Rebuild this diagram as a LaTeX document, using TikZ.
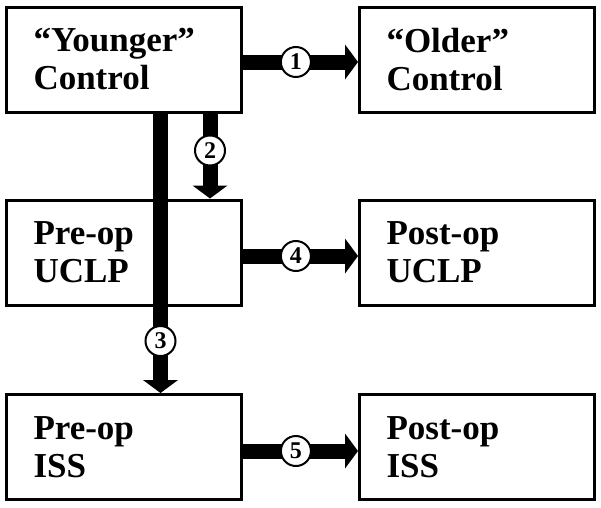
\documentclass[tikz,border=0pt]{standalone}
\usepackage{fontspec}
\setmainfont{Liberation Serif}
\usetikzlibrary{arrows.meta,positioning}
\tikzset{
  box/.style={draw, line width=3pt, minimum width=235pt, minimum height=105pt,
    text width=181pt, inner xsep=27pt, inner ysep=0pt, align=left,
    font=\fontsize{35}{38}\selectfont\bfseries},
  bigarrow/.style={line width=15pt,
    -{Triangle[width=35pt,length=13pt,line width=0pt]}},
  num/.style={circle, draw, line width=2pt, fill=white, minimum size=30pt,
    inner sep=0pt, font=\fontsize{24}{24}\selectfont\bfseries}
}
\begin{document}
\begin{tikzpicture}[x=1pt,y=-1pt]
\useasboundingbox (0,0) rectangle (601,507);
\node[box] (yc) at (124,59.5) {“Younger”\\Control};
\node[box] (oc) at (477,59.5) {“Older”\\Control};
\node[box] (pu) at (124,252.5) {Pre-op\\UCLP};
\node[box] (qu) at (477,252.5) {Post-op\\UCLP};
\node[box] (pi) at (124,447) {Pre-op\\ISS};
\node[box] (qi) at (477,447) {Post-op\\ISS};
\draw[bigarrow] ([yshift=-2.5pt]yc.east) -- node[num, pos=0.46] {1} ([yshift=-2.5pt]oc.west);
\draw[bigarrow] ([xshift=86pt]yc.south) -- node[num, pos=0.435] {2} ([xshift=86pt]pu.north);
\draw[bigarrow] ([xshift=36.5pt]yc.south) -- node[num, pos=0.814] {3} ([xshift=36.5pt]pi.north);
\draw[bigarrow] ([yshift=-3.5pt]pu.east) -- node[num, pos=0.46] {4} ([yshift=-3.5pt]qu.west);
\draw[bigarrow] ([yshift=-4pt]pi.east) -- node[num, pos=0.46] {5} ([yshift=-4pt]qi.west);
\end{tikzpicture}
\end{document}
